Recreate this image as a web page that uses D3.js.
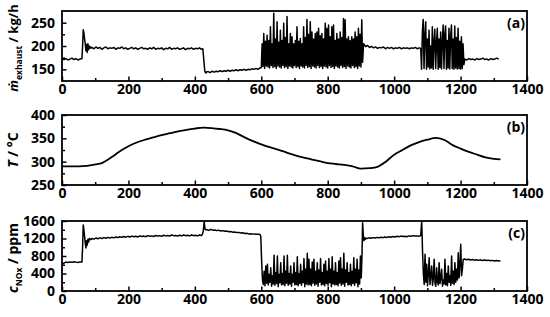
<!DOCTYPE html>
<html>
<head>
<meta charset="utf-8">
<script src="https://cdn.jsdelivr.net/npm/d3@7"></script>
<style>
  body { margin: 0; background: #fff; }
  svg text { font-family: "Open Sans", "Liberation Sans", sans-serif; font-weight: bold; }
</style>
</head>
<body>
<script>
// time axis (s)
var timeTicks = [0, 200, 400, 600, 800, 1000, 1200, 1400];
var timeMinor = [100, 300, 500, 700, 900, 1100, 1300];

// exhaust mass flow, kg/h -- segments as [start, step, values]
var mExhaust = [
  [0, 6, [172,171,173,170,172,174,171,173,170,172,173]],
  [62, 2, [200,235,228,215,205,190,203,186,205,192,200,195,198,196]],
  [90, 6, [197,194,198,195,197,193,196,198,194,196, 195,197,193,196,195,198,194,196,193,195,
           197,194,196,193,195,197,194,195,193,196, 194,197,193,195,194,196,192,195,194,197,
           193,195,194,196,193,194,196,192,195,194, 196,193,195,194,196,193]],
  [424, 3, [194,170,146,142,145]],
  [440, 6, [145,143,146,144,146,145,147,145,147,146,148,146,148,147,149,147,149,148,150,148,150,149,151,150,152,150,153]],
  [600, 2.5, [154,205,156,227,152,210,157,223,155,212, 153,241,158,205,154,270,156,215,152,252,
              157,208,155,234,153,212,158,249,154,218, 156,263,152,205,157,227,155,220,153,205,
              158,212,154,241,156,210,152,216,157,205, 155,241,153,218,158,257,154,225,156,252,
              152,230,157,215,155,227,153,230,158,238, 154,222,156,227,152,215,157,249,155,238,
              153,245,158,220,154,241,156,245,152,212, 157,227,155,215,153,230,158,218,154,259,
              156,256,152,215,157,220,155,212,153,220, 158,215,154,230,156,220,152,238,157,225,
              155,256,165]],
  [908, 6, [205,199,201,197,199,196,198,195,197,196,198,194,197,195,197,194,196,195,197,194,196,195,196,194,196,195,197,194,196]],
  [1080, 2.5, [195,150,230,257,152,225,252,150,215,155,234,151,200,153,241,150,210,236,152,205,
               238,150,215,154,230,151,210,245,152,225,243,150,212,153,238,151,220,245,152,215,
               150,243,153,218,151,238,152,210,150,220,152,205,160]],
  [1213, 6, [172,170,173,171,172,170,173,171,172,174,171,172,170,173,171,172,174,172]]
];

// temperature, °C
var tempTime = [0,25,50,75,100,120,140,160,180,200,225,250,275,300,325,350,375,400,425,450,475,500,525,550,575,600,
                625,650,675,700,725,750,775,800,825,850,875,900,925,950,975,1000,1025,1050,1075,1100,1125,1150,1175,1200,
                1225,1250,1275,1300,1320];
var tempVal  = [290,290,290,291,294,297,305,315,325,333,341,347,352,357,361,365,368,371,373,372,370,367,361,352,344,337,
                331,326,320,314,309,305,301,297,295,293,290,285,286,289,300,315,325,335,342,347,351,347,336,328,
                321,315,309,306,305];

// NOx concentration, ppm
var cNOx = [
  [0, 6, [600,640,660,650,665,655,670,660,650,665,660]],
  [62, 2, [1000,1510,1400,1250,1100,983,1150,1050,1180,1120,1200,1170,1190,1180]],
  [90, 6, [1200,1185,1210,1195,1215,1200,1220,1205,1225,1210, 1230,1215,1235,1220,1240,1225,1245,1230,1250,1235,
           1255,1240,1250,1235,1260,1245,1255,1240,1265,1250, 1260,1245,1270,1255,1265,1250,1275,1260,1270,1255,
           1280,1265,1270,1255,1275,1260,1280,1265,1275,1260, 1280,1265,1275,1260,1280,1270]],
  [423, 2.5, [1300,1380,1584,1420,1400]],
  [436, 6, [1400,1385,1410,1390,1395,1380,1390,1370,1380,1365,1370,1355,1360,1345,1350,1335,1340,1325,1330,1315,1320,1305,1310,1300,1305,1295,1300]],
  [596, 2.5, [1290,1250,700,250]],
  [606, 2.5, [150,450,120,571,180,610,140,380,200,533,110,350,160,815,130,420,170,800,100,380,
              190,648,140,400,150,800,120,450,180,815,130,400,160,571,110,380,200,648,140,420,
              150,785,120,400,170,610,130,450,190,740,100,500,160,861,140,724,150,500,120,663,
              180,724,130,450,160,648,110,480,200,740,140,420,150,610,120,686,170,450,130,740,
              190,500,100,785,160,450,140,648,150,420,120,686,180,762,130,500,160,861,110,480,
              200,648,140,420,150,610,120,450,170,762,130,500,190,724,100,480,160,800,300,900]],
  [905, 2, [1561,1300,1150,1219,1180,1210]],
  [918, 6, [1200,1215,1205,1220,1210,1225,1215,1230,1220,1235,1225,1240,1230,1245,1235,1250,1240,1255,1245,1250,1240,1260,1250,1265,1255,1260,1250,1265]],
  [1083, 2.5, [1600,900,400,150,838,200,610,120,400,762,150,350,571,130,300,724,180,110,533,200,
               140,648,170,300,495,110,250,160,724,140,400,120,571,200,350,130,800,180,450,150,
               648,200,500,250,876,300,600,1067,350,500,720]],
  [1212, 6, [730,715,725,710,720,705,715,700,712,698,708,695,705,690,700,688,698,685,692]]
];

var flowTicks = [150, 200, 250], flowMinor = [175, 225];
var tempTicks = [250, 300, 350, 400], tempMinor = [275, 325, 375];
var noxTicks = [0, 400, 800, 1200, 1600], noxMinor = [200, 600, 1000, 1400];

// turn [start, step, values] segments into [t, v] points
function toPoints(segs) {
  var pts = [];
  segs.forEach(function(s) {
    s[2].forEach(function(v, i) { pts.push([s[0] + i * s[1], v]); });
  });
  return pts;
}

var W = 550, H = 317;
var left = 62, right = 527;
var fmt = d3.format("d");

var svg = d3.select("body").append("svg")
    .attr("width", W)
    .attr("height", H);

var x = d3.scaleLinear().domain([0, 1400]).range([left, right]);

function panel(top, bottom, yDomain, yTicks, yMinor, points, curve, lw, tag, id) {
  var y = d3.scaleLinear().domain(yDomain).range([bottom, top]);
  var g = svg.append("g");

  svg.append("clipPath").attr("id", id)
    .append("rect")
    .attr("x", left).attr("y", top)
    .attr("width", right - left).attr("height", bottom - top);

  var line = d3.line()
      .x(function(d) { return x(d[0]); })
      .y(function(d) { return y(d[1]); })
      .curve(curve);

  g.append("path")
    .datum(points)
    .attr("clip-path", "url(#" + id + ")")
    .attr("d", line)
    .attr("fill", "none")
    .attr("stroke", "#000")
    .attr("stroke-width", lw)
    .attr("stroke-linejoin", "round");

  // x axis, ticks pointing inward
  g.append("g").attr("transform", "translate(0," + bottom + ")")
    .call(d3.axisBottom(x).tickValues(timeTicks).tickFormat(fmt).tickSize(-4.5).tickPadding(3));
  g.append("g").attr("transform", "translate(0," + bottom + ")")
    .call(d3.axisBottom(x).tickValues(timeMinor).tickSize(-3).tickFormat(""));

  // y axis
  g.append("g").attr("transform", "translate(" + left + ",0)")
    .call(d3.axisLeft(y).tickValues(yTicks).tickFormat(fmt).tickSize(-4.5).tickPadding(7));
  g.append("g").attr("transform", "translate(" + left + ",0)")
    .call(d3.axisLeft(y).tickValues(yMinor).tickSize(-3).tickFormat(""));

  g.selectAll(".domain").remove();
  g.selectAll(".tick line").attr("stroke", "#000").attr("stroke-width", 1.5);
  g.selectAll(".tick text").attr("font-size", 14).attr("fill", "#000");

  g.append("rect")
    .attr("x", left).attr("y", top)
    .attr("width", right - left).attr("height", bottom - top)
    .attr("fill", "none")
    .attr("stroke", "#000")
    .attr("stroke-width", 1.8);

  g.append("text")
    .attr("x", right - 2).attr("y", top + 17)
    .attr("text-anchor", "end")
    .attr("font-size", 14)
    .text(tag);
  return g;
}

var tempPoints = tempTime.map(function(t, i) { return [t, tempVal[i]]; });

panel(11, 81, [125, 275], flowTicks, flowMinor, toPoints(mExhaust), d3.curveLinear, 1.5, "(a)", "clipA");
panel(115, 185, [250, 400], tempTicks, tempMinor, tempPoints, d3.curveMonotoneX, 1.8, "(b)", "clipB");
panel(221, 291, [0, 1600], noxTicks, noxMinor, toPoints(cNOx), d3.curveLinear, 1.5, "(c)", "clipC");

// y axis titles
var t1 = svg.append("text").attr("transform", "translate(18,48) rotate(-90)")
    .attr("text-anchor", "middle").attr("font-size", 13);
t1.append("tspan").attr("font-style", "italic").text("ṁ");
t1.append("tspan").attr("font-size", 8.5).attr("dy", 4).text("exhaust");
t1.append("tspan").attr("dy", -4).text(" / kg/h");

var t2 = svg.append("text").attr("transform", "translate(18,150) rotate(-90)")
    .attr("text-anchor", "middle").attr("font-size", 14);
t2.append("tspan").attr("font-style", "italic").text("T");
t2.append("tspan").text(" / °C");

var t3 = svg.append("text").attr("transform", "translate(18,258) rotate(-90)")
    .attr("text-anchor", "middle").attr("font-size", 14);
t3.append("tspan").attr("font-style", "italic").text("c");
t3.append("tspan").attr("font-size", 8.5).attr("dy", 4).text("NOx");
t3.append("tspan").attr("dy", -4).text(" / ppm");
</script>
</body>
</html>
